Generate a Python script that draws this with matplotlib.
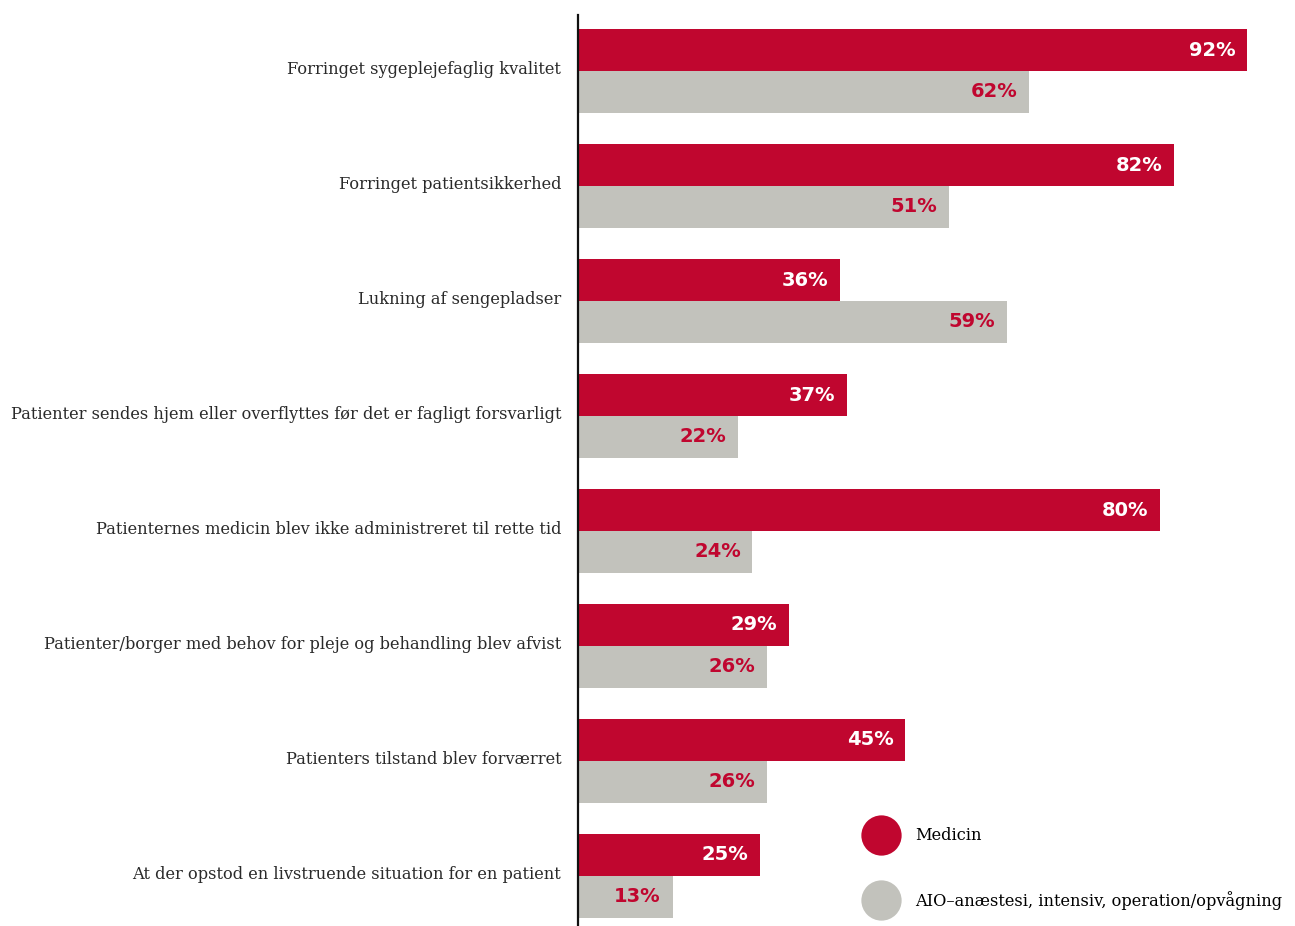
import matplotlib.pyplot as plt
from matplotlib.lines import Line2D
import numpy as np

categories = [
    "Forringet sygeplejefaglig kvalitet",
    "Forringet patientsikkerhed",
    "Lukning af sengepladser",
    "Patienter sendes hjem eller overflyttes før det er fagligt forsvarligt",
    "Patienternes medicin blev ikke administreret til rette tid",
    "Patienter/borger med behov for pleje og behandling blev afvist",
    "Patienters tilstand blev forværret",
    "At der opstod en livstruende situation for en patient",
]
medicin = [92, 82, 36, 37, 80, 29, 45, 25]
aio = [62, 51, 59, 22, 24, 26, 26, 13]
series_names = ["Medicin", "AIO\u2013anæstesi, intensiv, operation/opvågning"]

RED = "#C0062F"
GREY = "#C2C2BC"
LABEL_FONT = "DejaVu Serif"

fig = plt.figure(figsize=(12.95, 9.26), dpi=100)
ax = fig.add_axes([578 / 1295, 0, 1 - 578 / 1295, 1 - 15 / 926])

y = np.arange(len(categories))
h = 0.365
off = h / 2
ax.barh(y - off, medicin, height=h, color=RED)
ax.barh(y + off, aio, height=h, color=GREY)

# value labels inside the bar ends
for yi, v in zip(y, medicin):
    ax.text(v - 1.6, yi - off, f"{v}%", ha="right", va="center",
            color="white", fontsize=14, fontweight="bold", family="DejaVu Sans")
for yi, v in zip(y, aio):
    ax.text(v - 1.6, yi + off, f"{v}%", ha="right", va="center",
            color=RED, fontsize=14, fontweight="bold", family="DejaVu Sans")

ax.set_xlim(0, (1295 - 578) / 7.27)
ax.set_ylim(7.435, -0.487)
ax.set_yticks(y - 0.03)
ax.set_yticklabels(categories, family=LABEL_FONT, fontsize=11.7, color="#2a2a2a")
ax.tick_params(axis="y", length=0, pad=12)
ax.set_xticks([])
for s in ["top", "right", "bottom"]:
    ax.spines[s].set_visible(False)
ax.spines["left"].set_linewidth(1.6)
ax.spines["left"].set_color("#111111")

handles = [
    Line2D([], [], marker="o", linestyle="none", markersize=29,
           markerfacecolor=RED, markeredgecolor="none"),
    Line2D([], [], marker="o", linestyle="none", markersize=29,
           markerfacecolor=GREY, markeredgecolor="none"),
]
fig.legend(handles, series_names, loc="lower left",
           bbox_to_anchor=(853 / 1295, 5 / 926), frameon=False,
           prop={"family": LABEL_FONT, "size": 11.7},
           labelspacing=2.85, handletextpad=1.1, borderpad=0.2)

fig.savefig("out.png", dpi=100)
